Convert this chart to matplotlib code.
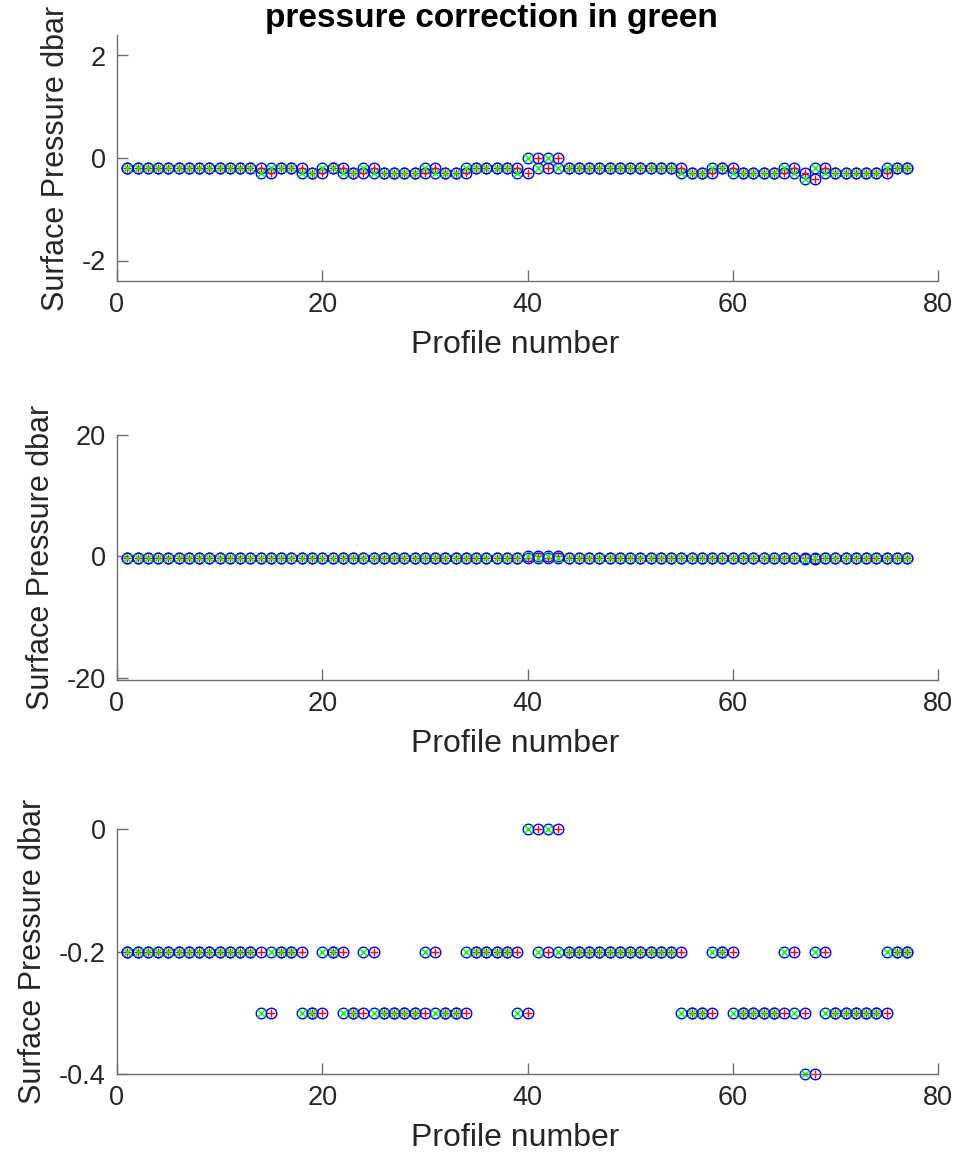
import numpy as np
import matplotlib
matplotlib.use("Agg")
import matplotlib.pyplot as plt

plt.rcParams['font.family'] = ['Liberation Sans', 'DejaVu Sans']

# surface pressure per profile (dbar)
profile = np.arange(1, 78)
surf_pres = [-0.2, -0.2, -0.2, -0.2, -0.2, -0.2, -0.2, -0.2, -0.2, -0.2,
             -0.2, -0.2, -0.2, -0.3, -0.2, -0.2, -0.2, -0.3, -0.3, -0.2,
             -0.2, -0.3, -0.3, -0.2, -0.3, -0.3, -0.3, -0.3, -0.3, -0.2,
             -0.3, -0.3, -0.3, -0.2, -0.2, -0.2, -0.2, -0.2, -0.3, 0.0,
             -0.2, 0.0, -0.2, -0.2, -0.2, -0.2, -0.2, -0.2, -0.2, -0.2,
             -0.2, -0.2, -0.2, -0.2, -0.3, -0.3, -0.3, -0.2, -0.2, -0.3,
             -0.3, -0.3, -0.3, -0.3, -0.2, -0.3, -0.4, -0.2, -0.3, -0.3,
             -0.3, -0.3, -0.3, -0.3, -0.2, -0.2, -0.2]

# surface pressure applied as correction (taken from previous cycle)
pres_corr = [-0.2, -0.2, -0.2, -0.2, -0.2, -0.2, -0.2, -0.2, -0.2, -0.2,
             -0.2, -0.2, -0.2, -0.2, -0.3, -0.2, -0.2, -0.2, -0.3, -0.3,
             -0.2, -0.2, -0.3, -0.3, -0.2, -0.3, -0.3, -0.3, -0.3, -0.3,
             -0.2, -0.3, -0.3, -0.3, -0.2, -0.2, -0.2, -0.2, -0.2, -0.3,
             0.0, -0.2, 0.0, -0.2, -0.2, -0.2, -0.2, -0.2, -0.2, -0.2,
             -0.2, -0.2, -0.2, -0.2, -0.2, -0.3, -0.3, -0.3, -0.2, -0.2,
             -0.3, -0.3, -0.3, -0.3, -0.3, -0.2, -0.3, -0.4, -0.2, -0.3,
             -0.3, -0.3, -0.3, -0.3, -0.3, -0.2, -0.2]

ylims = [(-2.4, 2.4), (-20.4, 20), (-0.4, 0)]
yticks = [[-2, 0, 2], [-20, 0, 20], [-0.4, -0.2, 0]]
ytick_labels = [['-2', '0', '2'], ['-20', '0', '20'], ['-0.4', '-0.2', '0']]

fig = plt.figure(figsize=(9.56, 11.59), dpi=100)

# axes boxes in pixels: top edge, height
boxes = [(35, 246), (435, 245), (829, 245)]
axc = '#262626'

for i, (top, h) in enumerate(boxes):
    ax = fig.add_axes([117 / 956, (1159 - top - h) / 1159, 821 / 956, h / 1159])
    ax.plot(profile, pres_corr, 'o', mfc='none', mec='blue', ms=7.6, mew=1.0, clip_on=False)
    ax.plot(profile, surf_pres, 'o', mfc='none', mec='blue', ms=7.6, mew=1.0, clip_on=False)
    ax.plot(profile, pres_corr, '+', color='red', ms=6.4, mew=1.0, clip_on=False)
    ax.plot(profile, surf_pres, 'x', color='#00ff00', ms=5.4, mew=1.0, clip_on=False)
    ax.set_xlim(0, 80)
    ax.set_ylim(*ylims[i])
    ax.set_xticks([0, 20, 40, 60, 80])
    ax.set_yticks(yticks[i])
    ax.set_yticklabels(ytick_labels[i])
    for s in ['top', 'right']:
        ax.spines[s].set_visible(False)
    for s in ['left', 'bottom']:
        ax.spines[s].set_color('#6e6e6e')
        ax.spines[s].set_linewidth(1.0)
    ax.tick_params(direction='in', length=8, width=1.0, color='#6e6e6e',
                   labelcolor=axc, labelsize=19.5, pad=8)
    ax.set_xlabel('Profile number', fontsize=23, color=axc)
    ax.xaxis.set_label_coords(0.485, -64 / h, transform=ax.transAxes)
    ax.xaxis.label.set_va('center')
    ax.set_ylabel('Surface Pressure dbar', fontsize=22, color=axc, labelpad=8)

fig.text(491 / 956, 1 - 18 / 1159, 'pressure correction in green', ha='center', va='center',
         fontsize=24, fontweight='bold', color='black')

fig.savefig('out.png', dpi=100)
